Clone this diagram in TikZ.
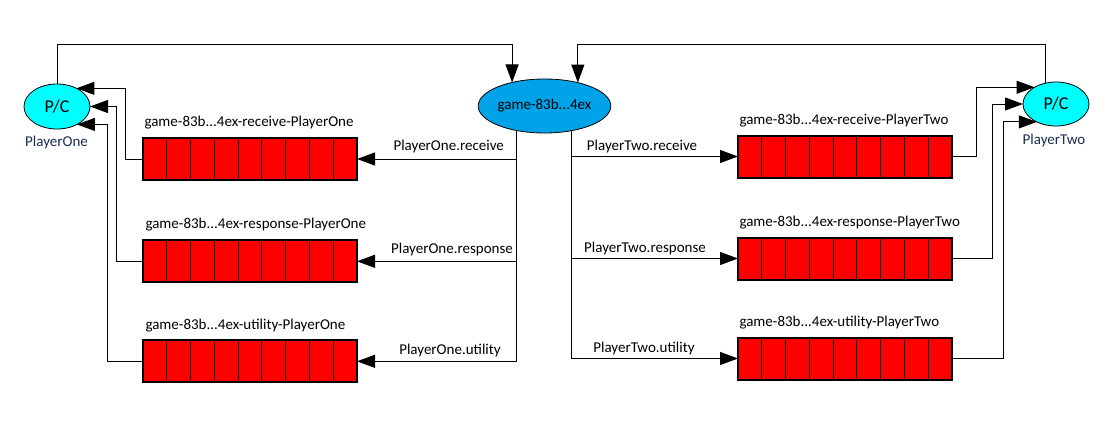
\documentclass[tikz,border=0pt]{standalone}
\usepackage{fontspec}
\setmainfont{Carlito}
\usetikzlibrary{shapes.geometric,arrows.meta,calc}
\definecolor{pccol}{RGB}{0,255,255}
\definecolor{exchcol}{RGB}{0,162,232}
\definecolor{qred}{RGB}{255,0,0}
\definecolor{plcol}{RGB}{25,45,80}
\begin{document}
\begin{tikzpicture}[x=1pt,y=-1pt,
  lbl/.style={font=\fontsize{15}{18}\selectfont, inner sep=0pt, outer sep=0pt},
  qlbl/.style={lbl, anchor=west},
  pllbl/.style={lbl, text=plcol},
  queue/.style={draw=black, line width=2pt, fill=qred, minimum width=214pt, minimum height=42pt, inner sep=0pt, outer sep=0pt},
  pc/.style={ellipse, draw=black, line width=0.8pt, fill=pccol, minimum width=66pt, minimum height=45pt, inner sep=0pt, outer sep=0pt, font=\fontsize{18}{20}\selectfont},
  exch/.style={ellipse, draw=black, line width=0.8pt, fill=exchcol, minimum width=111pt, minimum height=54pt, inner sep=0pt, outer sep=0pt, font=\fontsize{15}{18}\selectfont},
  conn/.style={draw=black, line width=1pt},
  arr/.style={conn, -{Triangle[length=18pt,width=13pt]}}]
\useasboundingbox (0,0) rectangle (1115,431);
\fill[white] (0,0) rectangle (1115,431);

% consumers / producers
\node[pc] (pc1) at (57,106.5) {P/C};
\node[pc, minimum height=44pt] (pc2) at (1056,104) {P/C};
\node[pllbl] (pl1) at (56.5,142) {PlayerOne};
\node[pllbl] (pl2) at (1054,140) {PlayerTwo};

% exchange
\node[exch] (cen) at (544.5,106) {game-83b...4ex};

% queues
\node[queue] (q1r) at (250,159) {};
\node[queue] (q1s) at (250,261.3) {};
\node[queue] (q1u) at (250,361.3) {};
\node[queue] (q2r) at (845,156.5) {};
\node[queue] (q2s) at (845,258.5) {};
\node[queue] (q2u) at (845,358.5) {};
\foreach \q in {q1r,q1s,q1u,q2r,q2s,q2u}{
  \foreach \i in {1,...,8}{
    \draw[line width=1pt] ($(\q.north west)!\i/9!(\q.north east)$) -- ($(\q.south west)!\i/9!(\q.south east)$);
  }
}

% queue labels
\node[qlbl] (l1r) at ([xshift=1.5pt,yshift=15pt]q1r.north west) {game-83b...4ex-receive-PlayerOne};
\node[qlbl] (l1s) at ([xshift=2.5pt,yshift=16pt]q1s.north west) {game-83b...4ex-response-PlayerOne};
\node[qlbl] (l1u) at ([xshift=2.5pt,yshift=15pt]q1u.north west) {game-83b...4ex-utility-PlayerOne};
\node[qlbl] (l2r) at ([xshift=1.5pt,yshift=15pt]q2r.north west) {game-83b...4ex-receive-PlayerTwo};
\node[qlbl] (l2s) at ([xshift=1.5pt,yshift=15pt]q2s.north west) {game-83b...4ex-response-PlayerTwo};
\node[qlbl] (l2u) at ([xshift=1.5pt,yshift=15pt]q2u.north west) {game-83b...4ex-utility-PlayerTwo};

% routing labels
\node[lbl] (t1r) at (448.7,146) {PlayerOne.receive};
\node[lbl] (t1s) at (452,249) {PlayerOne.response};
\node[lbl] (t1u) at (450,350) {PlayerOne.utility};
\node[lbl] (t2r) at (642,146) {PlayerTwo.receive};
\node[lbl] (t2s) at (645,248.5) {PlayerTwo.response};
\node[lbl] (t2u) at (644,348.5) {PlayerTwo.utility};

% exchange -> queues
\coordinate (cl) at (cen.221.8);
\coordinate (cr) at (cen.318.2);
\draw[arr] (cl) |- (q1u.east);
\draw[arr] (cl |- q1r.east) -- (q1r.east);
\draw[arr] (cl |- q1s.east) -- (q1s.east);
\draw[arr] (cr) |- (q2u.west);
\draw[arr] (cr |- q2r.west) -- (q2r.west);
\draw[arr] (cr |- q2s.west) -- (q2s.west);

% queues -> consumers
\draw[arr] (q1r.west) -- ++(-17.7,0) |- (pc1.43);
\draw[arr] (q1s.west) -- ++(-26.3,0) |- (pc1.east);
\draw[arr] (q1u.west) -- ++(-35.7,0) |- (pc1.-42);
\draw[arr] (q2r.east) -- ++(24,0) |- (pc2.142.8);
\draw[arr] (q2s.east) -- ++(40.7,0) |- (pc2.west);
\draw[arr] (q2u.east) -- ++(51.3,0) |- (pc2.223);

% producers -> exchange
\draw[arr] (pc1.north) -- ++(0,-40) -| (cen.144.8);
\draw[arr] (pc2.117.2) -- ++(0,-39) -| (cen.35.2);
\end{tikzpicture}
\end{document}
